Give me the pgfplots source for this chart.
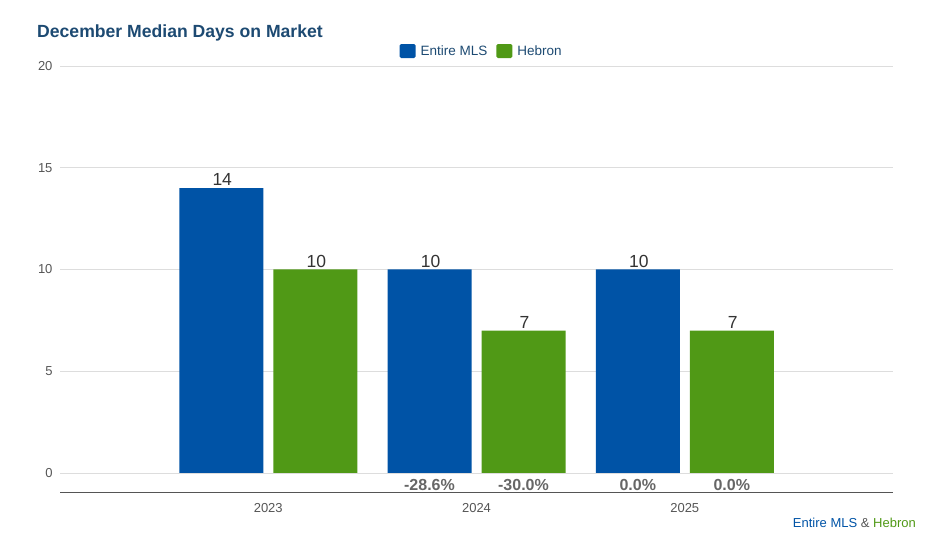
\documentclass[border=0pt]{standalone}
\usepackage{pgfplots}
\pgfplotsset{compat=1.18}
\usepackage{pgfplotstable}
\usepackage{fontspec}
\setmainfont{Liberation Sans}

\definecolor{mlsblue}{RGB}{0,83,166}
\definecolor{hebgreen}{RGB}{80,153,22}
\definecolor{titleblue}{RGB}{29,74,114}
\definecolor{ticktext}{RGB}{85,85,85}
\definecolor{gridgray}{RGB}{221,221,221}

\pgfplotstableread{
x val
0 14
1 10
2 10
}\mls
\pgfplotstableread{
x val
0 10
1 7
2 7
}\hebron
\pgfplotstableread{
x y pct
0.7743 -0.59 -28.6
1.2257 -0.59 -30.0
1.7743 -0.59 0.0
2.2257 -0.59 0.0
}\changes

\begin{document}
\begin{tikzpicture}
\path[use as bounding box] (0,0) rectangle (936bp,535bp);
\node[anchor=west, font=\fontsize{17.6bp}{20bp}\selectfont\bfseries, text=titleblue, inner sep=0pt]
  at (37bp,502.5bp) {December Median Days on Market};
\node[anchor=east, font=\fontsize{13bp}{15bp}\selectfont, inner sep=0pt]
  at (916bp,12bp) {\textcolor{mlsblue}{Entire MLS} \textcolor{ticktext}{\&} \textcolor{hebgreen}{Hebron}};
\begin{axis}[
  at={(60bp,43bp)}, anchor=south west,
  scale only axis, width=833bp, height=426bp,
  xmin=-1, xmax=3, ymin=-0.934, ymax=20,
  axis line style={draw=none},
  axis x line*=bottom,
  x axis line style={draw=ticktext, line width=0.8bp},
  ytick={0,5,10,15,20},
  xtick={0,1,2}, xticklabels={2023,2024,2025},
  major tick length=0pt,
  ymajorgrids, grid style={gridgray, line width=0.8bp},
  tick label style={font=\fontsize{13bp}{15bp}\selectfont, text=ticktext},
  yticklabel style={xshift=-4bp},
  xticklabel style={yshift=-8bp},
  /pgf/number format/assume math mode=true,
  clip=false,
  legend columns=2,
  legend style={at={(0.508,1.035)}, anchor=center, draw=none, fill=none,
    font=\fontsize{13.5bp}{15bp}\selectfont, text=titleblue,
    nodes={inner xsep=5bp},
    /tikz/every even column/.append style={column sep=4bp}},
  legend image code/.code={\fill[#1, rounded corners=1.5bp] (0bp,-7bp) rectangle (16bp,7bp);},
  nodes near coords style={font=\fontsize{17.5bp}{19bp}\selectfont, text=black!80, inner sep=2bp},
]
\addplot[ybar, bar width=84bp, bar shift=-47bp, fill=mlsblue, draw=none, nodes near coords,
  nodes near coords style={xshift=-46bp}]
  table[x=x, y=val] {\mls};
\addlegendentry{Entire MLS}
\addplot[ybar, bar width=84bp, bar shift=47bp, fill=hebgreen, draw=none, nodes near coords,
  nodes near coords style={xshift=48bp}]
  table[x=x, y=val] {\hebron};
\addlegendentry{Hebron}
\addplot[draw=none, mark=none, forget plot, point meta=explicit symbolic,
  nodes near coords={\pgfplotspointmeta\%},
  nodes near coords style={anchor=center, font=\fontsize{16bp}{18bp}\selectfont\bfseries, text=black!60}]
  table[x=x, y=y, meta=pct] {\changes};
\end{axis}
\end{tikzpicture}
\end{document}
